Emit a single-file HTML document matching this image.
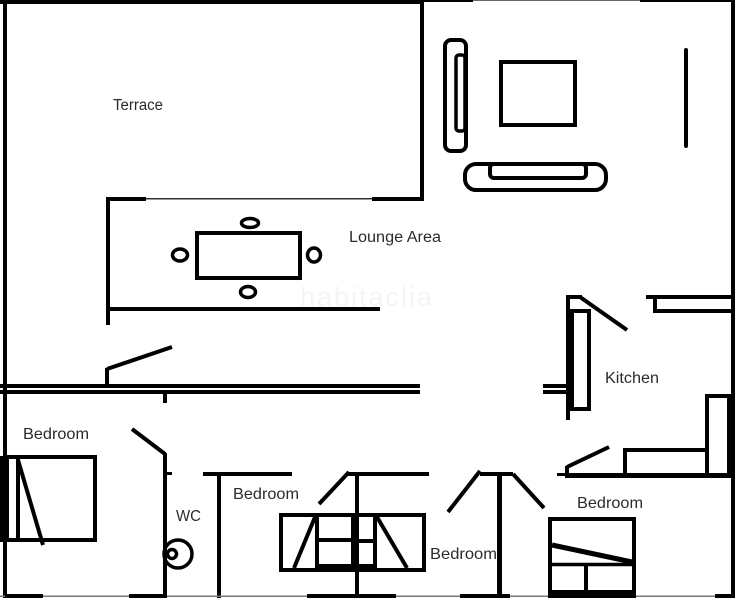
<!DOCTYPE html>
<html><head><meta charset="utf-8"><style>
html,body{margin:0;padding:0;background:#fff;}
svg{display:block;}
text{font-family:"Liberation Sans",sans-serif;fill:#2b2b2b;}
</style></head><body>
<svg width="735" height="600" viewBox="0 0 735 600" xmlns="http://www.w3.org/2000/svg">
<rect width="735" height="600" fill="#fff"/>
<text x="300" y="306" font-size="27" style="fill:#f5f5f5" textLength="132">habitaclia</text>
<g fill="#000">
<rect x="0" y="0" width="420" height="4"/>
<rect x="420" y="0" width="53" height="2"/>
<rect x="473" y="0" width="167" height="1" fill="#666"/>
<rect x="640" y="0" width="95" height="2"/>
<rect x="3" y="0" width="4" height="598"/>
<rect x="731" y="0" width="4" height="598"/>
<rect x="420" y="0" width="4" height="201"/>
<rect x="372" y="197" width="52" height="4"/>
<rect x="146" y="198" width="226" height="1.5" fill="#333"/>
<rect x="106" y="197" width="40" height="4"/>
<rect x="106" y="197" width="4" height="128"/>
<rect x="106" y="307" width="274" height="4"/>
<rect x="0" y="384" width="420" height="4"/>
<rect x="0" y="390" width="420" height="4"/>
<rect x="163" y="394" width="4" height="9"/>
<rect x="105" y="368" width="4" height="18"/>
<rect x="543" y="384" width="27" height="4"/>
<rect x="543" y="390" width="27" height="4"/>
<rect x="566" y="295" width="4" height="125"/>
<rect x="566" y="295" width="16" height="4"/>
<rect x="646" y="295" width="89" height="4"/>
<rect x="653" y="295" width="4" height="18"/>
<rect x="653" y="309" width="80" height="4"/>
<rect x="705" y="394" width="4" height="84"/>
<rect x="705" y="394" width="28" height="4"/>
<rect x="727" y="394" width="5" height="84"/>
<rect x="623" y="448" width="4" height="28"/>
<rect x="623" y="448" width="82" height="4"/>
<rect x="565" y="473" width="170" height="5"/>
<rect x="557" y="473" width="10" height="3"/>
<rect x="565" y="466" width="4" height="9"/>
<rect x="480" y="472" width="33" height="4"/>
<rect x="497" y="472" width="5" height="126"/>
<rect x="348" y="472" width="81" height="4"/>
<rect x="355" y="472" width="4" height="126"/>
<rect x="203" y="472" width="89" height="4"/>
<rect x="217" y="472" width="4" height="126"/>
<rect x="163" y="453" width="4" height="145"/>
<rect x="167" y="472" width="5" height="3"/>
<rect x="0" y="456" width="8" height="86"/>
<rect x="0" y="595.5" width="735" height="1.5" fill="#777"/>
<rect x="5" y="594" width="38" height="4"/>
<rect x="129" y="594" width="38" height="4"/>
<rect x="307" y="594" width="89" height="4"/>
<rect x="460" y="594" width="50" height="4"/>
<rect x="548" y="590" width="88" height="8"/>
<rect x="715" y="594" width="20" height="4"/>
<rect x="351" y="515" width="8" height="57"/>
<rect x="317" y="564" width="58" height="8"/>
</g>
<g fill="none" stroke="#000" stroke-width="4">
<line x1="107" y1="369" x2="172" y2="347"/>
<line x1="580" y1="297" x2="627" y2="330"/>
<line x1="567" y1="467" x2="609" y2="447"/>
<line x1="513" y1="474" x2="544" y2="508"/>
<line x1="448" y1="512" x2="480" y2="471"/>
<line x1="319" y1="504" x2="349" y2="472"/>
<line x1="132" y1="429" x2="165" y2="454"/>
<rect x="197" y="233" width="103" height="45"/>
<ellipse cx="250" cy="223" rx="8.5" ry="4.5" stroke-width="3.5"/>
<ellipse cx="248" cy="292" rx="7.5" ry="5.5" stroke-width="3.5"/>
<ellipse cx="180" cy="255" rx="7.5" ry="6" stroke-width="3.5"/>
<ellipse cx="314" cy="255" rx="6.5" ry="7" stroke-width="3.5"/>
<rect x="445" y="40" width="21" height="111" rx="6"/>
<rect x="456" y="55" width="9" height="76" rx="3" stroke-width="3.5"/>
<rect x="501" y="62" width="74" height="63"/>
<line x1="686" y1="50" x2="686" y2="146" stroke-linecap="round"/>
<rect x="465" y="164" width="141" height="26" rx="11"/>
<rect x="490" y="164" width="96" height="14" rx="4"/>
<rect x="572" y="311" width="17" height="98"/>
<rect x="7" y="457" width="88" height="83"/>
<line x1="18" y1="459" x2="18" y2="538"/>
<line x1="18" y1="460" x2="43" y2="545"/>
<circle cx="178" cy="554" r="14" stroke-width="3.5"/>
<circle cx="172" cy="554" r="4.5" stroke-width="3.5"/>
<rect x="281" y="515" width="143" height="55"/>
<line x1="315" y1="517" x2="294" y2="568"/>
<line x1="317" y1="517" x2="317" y2="568"/>
<line x1="375" y1="517" x2="375" y2="568"/>
<line x1="317" y1="540" x2="351" y2="540"/>
<line x1="359" y1="541" x2="375" y2="541"/>
<line x1="377" y1="517" x2="407" y2="568"/>
<rect x="550" y="519" width="84" height="75"/>
<line x1="552" y1="545" x2="632" y2="562" stroke-width="5"/>
<line x1="552" y1="564.5" x2="632" y2="564.5" stroke-width="3.5"/>
<line x1="586" y1="566" x2="586" y2="592"/>
</g>
<text x="113" y="110" font-size="15.5" textLength="50" lengthAdjust="spacingAndGlyphs">Terrace</text>
<text x="349" y="242" font-size="15.5" textLength="92" lengthAdjust="spacingAndGlyphs">Lounge Area</text>
<text x="605" y="383" font-size="15.5" textLength="54" lengthAdjust="spacingAndGlyphs">Kitchen</text>
<text x="23" y="439" font-size="16" textLength="66" lengthAdjust="spacingAndGlyphs">Bedroom</text>
<text x="176" y="521" font-size="15.5" textLength="25" lengthAdjust="spacingAndGlyphs">WC</text>
<text x="233" y="499" font-size="16" textLength="66" lengthAdjust="spacingAndGlyphs">Bedroom</text>
<text x="430" y="559" font-size="16" textLength="67" lengthAdjust="spacingAndGlyphs">Bedroom</text>
<text x="577" y="508" font-size="16" textLength="66" lengthAdjust="spacingAndGlyphs">Bedroom</text>
</svg>
</body></html>
